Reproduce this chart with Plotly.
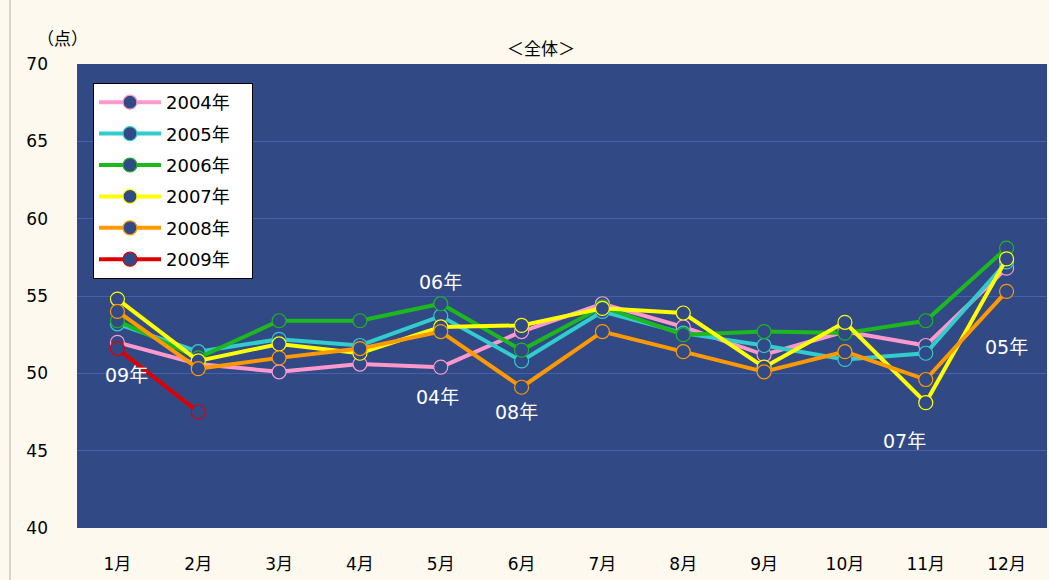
import plotly.graph_objects as go

months = ["1月", "2月", "3月", "4月", "5月", "6月", "7月", "8月", "9月", "10月", "11月", "12月"]
series_names = ["2004年", "2005年", "2006年", "2007年", "2008年", "2009年"]
v2004 = [52.0, 50.6, 50.1, 50.6, 50.4, 52.7, 54.5, 53.0, 51.2, 52.7, 51.8, 56.8]
v2005 = [53.2, 51.4, 52.2, 51.8, 53.7, 50.8, 54.0, 52.6, 51.8, 50.9, 51.3, 57.2]
v2006 = [53.4, 51.0, 53.4, 53.4, 54.5, 51.5, 54.3, 52.5, 52.7, 52.6, 53.4, 58.1]
v2007 = [54.8, 50.8, 51.9, 51.3, 53.0, 53.1, 54.2, 53.9, 50.4, 53.3, 48.1, 57.4]
v2008 = [54.0, 50.3, 51.0, 51.6, 52.7, 49.1, 52.7, 51.4, 50.1, 51.4, 49.6, 55.3]
v2009 = [51.6, 47.5]
series_values = [v2004, v2005, v2006, v2007, v2008, v2009]
series_colors = ["#FF99CC", "#33CCCC", "#1DB81D", "#FFFF00", "#FF9900", "#DD0000"]
y_ticks = [40, 45, 50, 55, 60, 65, 70]

# labels placed on the chart
label_texts = ["06年", "04年", "08年", "09年", "07年", "05年"]
label_months = ["5月", "5月", "6月", "1月", "11月", "12月"]
label_values = [55.9, 48.5, 47.5, 49.9, 45.6, 51.7]
label_xshift = [0, -3, -5, 9, -21, 0]

NAVY = "#314A86"
CREAM = "#FDF9EE"
FONT = "DejaVu Sans, Noto Sans CJK JP"
PAD = "\u00a0" * 3

fig = go.Figure()
for name, vals, col in zip(series_names, series_values, series_colors):
    fig.add_trace(go.Scatter(
        x=months[:len(vals)], y=vals, name=name + PAD, legendgroup=name,
        mode="lines+markers",
        line=dict(color=col, width=4),
        marker=dict(symbol="circle", size=14, color=NAVY, line=dict(color=col, width=1.2)),
    ))

for t, m, v, dx in zip(label_texts, label_months, label_values, label_xshift):
    fig.add_annotation(x=m, y=v, text=t, showarrow=False, xshift=dx,
                       font=dict(family=FONT, size=19, color="white"))

fig.add_annotation(xref="paper", yref="paper", x=(541 - 77) / 970, y=(528 - 48) / 464,
                   xanchor="center", yanchor="middle",
                   text="＜全体＞", showarrow=False,
                   font=dict(family="Noto Sans CJK JP", size=17, color="black"))
fig.add_annotation(xref="paper", yref="paper", x=(62 - 77) / 970, y=(528 - 38) / 464,
                   xanchor="center", yanchor="middle",
                   text="（点）", showarrow=False,
                   font=dict(family="Noto Sans CJK JP", size=17, color="black"))

fig.add_shape(type="line", xref="paper", yref="paper",
              x0=(10 - 77) / 970, x1=(10 - 77) / 970, y0=-0.12, y1=1.14,
              line=dict(color="#C8C8C8", width=1.5))

fig.update_layout(
    width=1049, height=580,
    margin=dict(l=77, r=2, t=64, b=52),
    paper_bgcolor=CREAM, plot_bgcolor=NAVY,
    font=dict(family=FONT, size=16, color="black"),
    showlegend=True,
    legend=dict(x=(93 - 77) / 970, y=(528 - 83) / 464, xanchor="left", yanchor="top",
                bgcolor="white", bordercolor="black", borderwidth=1,
                font=dict(family=FONT, size=18, color="black"),
                tracegroupgap=5, itemwidth=62),
)
fig.update_xaxes(type="category", categoryorder="array", categoryarray=months,
                 range=[-0.5, 11.5], showgrid=False, zeroline=False,
                 showline=False, ticks="", ticklabelstandoff=24,
                 tickfont=dict(family=FONT, size=17, color="black"))
fig.update_yaxes(range=[40, 70], tickvals=y_ticks, showgrid=True,
                 gridcolor="#4462AA", gridwidth=1, zeroline=False, showline=False,
                 ticks="", ticklabelstandoff=28,
                 tickfont=dict(family=FONT, size=17, color="black"))

fig.write_html("out.html", config={"displayModeBar": False},
               post_script="document.body.style.margin='0';document.body.style.padding='0';")
